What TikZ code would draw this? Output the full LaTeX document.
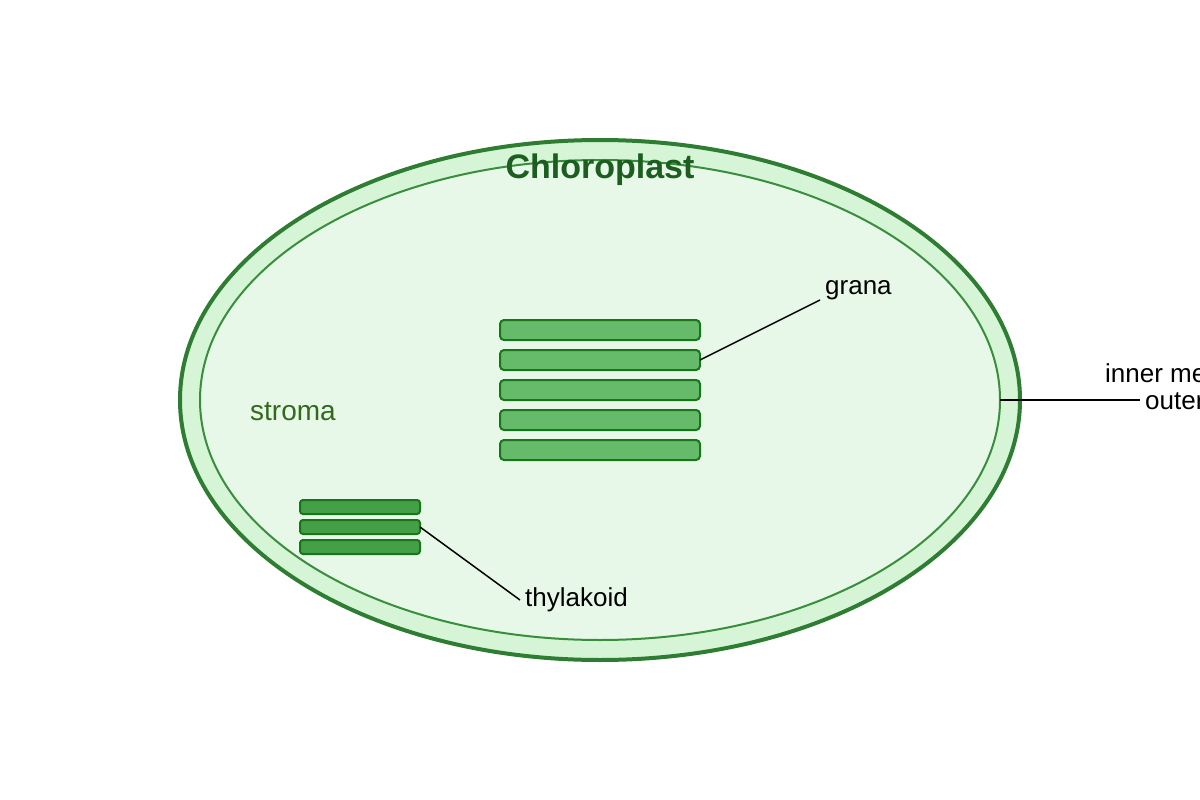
\documentclass[tikz,border=0pt]{standalone}
\usepackage{fontspec}
\setmainfont{Liberation Sans}
\begin{document}
\begin{tikzpicture}[x=1pt,y=-1pt,
 lbl/.style={anchor=west,inner sep=0pt,font=\fontsize{26}{30}\selectfont},
 gran/.style={draw=green!40!black!90,fill=grana,line width=2pt,rounded corners=4pt},
 thy/.style={draw=green!40!black!90,fill=thyc,line width=2pt,rounded corners=3pt},
 ptr/.style={line width=1.5pt}]
\definecolor{outerf}{HTML}{D6F5D6}
\definecolor{outerd}{HTML}{2E7D32}
\definecolor{innerf}{HTML}{E8F8E8}
\definecolor{innerd}{HTML}{388E3C}
\definecolor{grana}{HTML}{66BB6A}
\definecolor{thyc}{HTML}{43A047}
\definecolor{titlec}{HTML}{1B5E20}
\definecolor{stromac}{HTML}{33691E}
\useasboundingbox (0,0) rectangle (1200,800);
\draw[fill=outerf,draw=outerd,line width=4pt] (600,400) ellipse [x radius=420,y radius=260];
\draw[fill=innerf,draw=innerd,line width=2pt] (600,400) ellipse [x radius=400,y radius=240];
\node[font=\bfseries\fontsize{34}{40}\selectfont,text=titlec] (title) at (600,170) {Chloroplast};
\foreach \i/\y in {1/320,2/350,3/380,4/410,5/440}
  \draw[gran] (500,\y) rectangle (700,\y+20);
\foreach \i/\y in {1/500,2/520,3/540}
  \draw[thy] (300,\y) rectangle (420,\y+14);
\node[lbl,text=stromac,font=\fontsize{28}{32}\selectfont] (stroma) at (250,412) {stroma};
\node[lbl] (grlab) at (825,290) {grana};
\node[lbl] (thlab) at (525,600) {thylakoid};
\node[lbl] (inlab) at (1105,373) {inner membrane};
\node[lbl] (outlab) at (1145,400) {outer membrane};
\coordinate (gA) at (700,360); \coordinate (gB) at (820,300);
\coordinate (tA) at (420,527); \coordinate (tB) at (520,600);
\coordinate (mA) at (1000,400); \coordinate (mB) at (1140,400);
\draw[ptr] (gA) -- (gB);
\draw[ptr] (tA) -- (tB);
\draw[ptr] (mA) -- (mB);
\end{tikzpicture}
\end{document}
